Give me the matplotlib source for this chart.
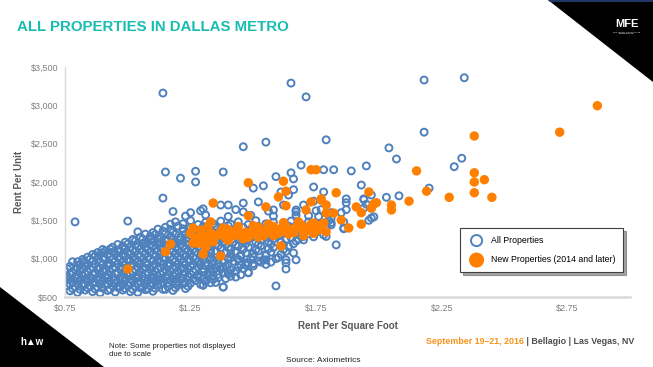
import matplotlib.pyplot as plt
from matplotlib.patches import Polygon

plt.rcParams['font.family'] = ['Liberation Sans', 'DejaVu Sans']

# Datos (renta por pie cuadrado, renta por unidad)
blue_core = [
    (0.77, 580), (0.80, 560), (0.83, 590), (0.86, 570), (0.89, 555), (0.92, 585), (0.95, 565),
    (0.98, 590), (1.01, 570), (1.04, 560), (1.07, 595), (1.10, 575), (1.14, 600), (1.18, 585),
    (0.76, 650), (0.79, 630), (0.82, 655), (0.85, 640), (0.88, 625), (0.91, 660), (0.94, 645),
    (0.97, 630), (1.00, 655), (1.03, 640), (1.06, 625), (1.09, 650), (1.12, 660), (1.16, 635),
    (1.20, 655), (1.24, 640), (1.30, 655), (1.38, 630),
    (0.75, 710), (0.78, 690), (0.81, 720), (0.84, 700), (0.87, 685), (0.90, 715), (0.93, 700),
    (0.96, 690), (0.99, 720), (1.02, 705), (1.05, 690), (1.08, 715), (1.11, 700), (1.14, 685),
    (1.17, 720), (1.20, 700), (1.23, 690), (1.27, 715), (1.31, 700), (1.35, 690),
    (0.76, 770), (0.79, 755), (0.82, 780), (0.85, 760), (0.88, 750), (0.91, 775), (0.94, 765),
    (0.97, 750), (1.00, 780), (1.03, 760), (1.06, 770), (1.09, 750), (1.12, 775), (1.15, 760),
    (1.18, 780), (1.21, 755), (1.24, 770), (1.28, 760), (1.32, 780), (1.36, 750), (1.41, 770),
    (0.75, 830), (0.78, 815), (0.81, 845), (0.84, 825), (0.87, 810), (0.90, 840), (0.93, 830),
    (0.96, 815), (0.99, 845), (1.02, 825), (1.05, 835), (1.08, 815), (1.11, 840), (1.14, 820),
    (1.17, 830), (1.20, 845), (1.23, 815), (1.26, 835), (1.30, 825), (1.34, 845), (1.38, 815),
    (1.43, 835), (1.48, 820),
    (0.77, 900), (0.80, 880), (0.83, 905), (0.86, 890), (0.89, 875), (0.92, 905), (0.95, 890),
    (0.98, 880), (1.01, 910), (1.04, 890), (1.07, 875), (1.10, 900), (1.13, 885), (1.16, 905),
    (1.19, 890), (1.22, 875), (1.25, 900), (1.28, 890), (1.31, 910), (1.35, 880), (1.39, 900),
    (1.44, 885), (1.50, 905),
    (0.80, 960), (0.83, 945), (0.86, 970), (0.89, 955), (0.92, 940), (0.95, 965), (0.98, 950),
    (1.01, 975), (1.04, 960), (1.07, 945), (1.10, 970), (1.13, 955), (1.16, 940), (1.19, 965),
    (1.22, 950), (1.25, 975), (1.28, 960), (1.31, 945), (1.34, 970), (1.38, 955), (1.42, 965),
    (1.47, 945), (1.52, 970), (1.57, 955),
    (0.84, 1020), (0.87, 1035), (0.90, 1010), (0.93, 1030), (0.96, 1020), (0.99, 1040),
    (1.02, 1015), (1.05, 1030), (1.08, 1020), (1.11, 1040), (1.14, 1010), (1.17, 1030),
    (1.20, 1025), (1.23, 1040), (1.26, 1015), (1.29, 1035), (1.33, 1020), (1.37, 1040),
    (1.41, 1010), (1.45, 1030), (1.50, 1020), (1.55, 1040), (1.60, 1015),
    (0.88, 1080), (0.91, 1100), (0.94, 1085), (0.97, 1095), (1.00, 1075), (1.03, 1100),
    (1.06, 1090), (1.09, 1080), (1.12, 1100), (1.15, 1085), (1.18, 1095), (1.21, 1075),
    (1.24, 1100), (1.27, 1090), (1.31, 1080), (1.35, 1100), (1.39, 1085), (1.43, 1095),
    (1.47, 1075), (1.52, 1100), (1.57, 1085), (1.63, 1095),
    (0.94, 1150), (0.98, 1165), (1.01, 1145), (1.04, 1160), (1.07, 1150), (1.10, 1170),
    (1.13, 1145), (1.16, 1160), (1.19, 1150), (1.22, 1165), (1.25, 1145), (1.28, 1160),
    (1.32, 1155), (1.36, 1170), (1.40, 1145), (1.44, 1160), (1.48, 1150), (1.53, 1165),
    (1.58, 1145), (1.64, 1160),
    (0.99, 1215), (1.03, 1230), (1.07, 1210), (1.10, 1225), (1.13, 1215), (1.16, 1235),
    (1.19, 1210), (1.22, 1225), (1.26, 1215), (1.30, 1235), (1.34, 1210), (1.38, 1225),
    (1.42, 1215), (1.46, 1235), (1.51, 1210), (1.56, 1225), (1.61, 1215), (1.67, 1230),
    (1.05, 1280), (1.09, 1295), (1.13, 1275), (1.17, 1290), (1.21, 1280), (1.25, 1300),
    (1.29, 1275), (1.33, 1290), (1.37, 1280), (1.41, 1300), (1.45, 1275), (1.50, 1290),
    (1.55, 1280), (1.60, 1300), (1.65, 1275), (1.70, 1290),
    (1.10, 1340), (1.14, 1360), (1.18, 1345), (1.22, 1355), (1.26, 1340), (1.30, 1365),
    (1.34, 1345), (1.39, 1355), (1.44, 1340), (1.49, 1360), (1.54, 1345), (1.59, 1355),
    (1.64, 1340), (1.69, 1360), (1.75, 1345),
    (1.15, 1410), (1.20, 1425), (1.25, 1405), (1.30, 1420), (1.35, 1410), (1.40, 1430),
    (1.46, 1405), (1.52, 1420), (1.58, 1410), (1.64, 1425), (1.70, 1405), (1.77, 1420),
    (1.19, 1480), (1.25, 1495), (1.31, 1475), (1.37, 1490), (1.44, 1480), (1.51, 1495),
    (1.58, 1475), (1.65, 1490), (1.72, 1480), (1.80, 1495),
    (1.23, 1555), (1.31, 1570), (1.40, 1550), (1.49, 1565), (1.58, 1555), (1.67, 1570),
    (1.76, 1550), (1.29, 1625), (1.43, 1640), (1.56, 1620), (1.67, 1635), (1.75, 1625),
]

# puntos intermedios del nucleo denso
blue_fill = [
    (0.78, 610), (0.81, 600), (0.84, 620), (0.87, 605), (0.90, 615), (0.93, 600), (0.96, 625),
    (0.99, 610), (1.02, 600), (1.05, 620), (1.08, 605), (1.11, 615), (1.15, 600), (1.19, 620),
    (1.23, 610),
    (0.77, 670), (0.80, 680), (0.83, 665), (0.86, 685), (0.89, 675), (0.92, 670), (0.95, 680),
    (0.98, 665), (1.01, 685), (1.04, 675), (1.07, 670), (1.10, 680), (1.13, 665), (1.16, 685),
    (1.19, 675), (1.22, 670), (1.25, 680), (1.29, 665), (1.33, 685),
    (0.77, 735), (0.80, 745), (0.83, 730), (0.86, 740), (0.89, 735), (0.92, 745), (0.95, 730),
    (0.98, 740), (1.01, 735), (1.04, 745), (1.07, 730), (1.10, 740), (1.13, 735), (1.16, 745),
    (1.19, 730), (1.22, 740), (1.26, 735), (1.30, 745), (1.34, 730), (1.39, 740),
    (0.77, 800), (0.80, 790), (0.83, 805), (0.86, 795), (0.89, 800), (0.92, 790), (0.95, 805),
    (0.98, 795), (1.01, 800), (1.04, 790), (1.07, 805), (1.10, 795), (1.13, 800), (1.16, 790),
    (1.19, 805), (1.22, 795), (1.25, 800), (1.28, 790), (1.32, 805), (1.36, 795), (1.40, 800),
    (1.45, 790),
    (0.76, 865), (0.79, 855), (0.82, 870), (0.85, 860), (0.88, 865), (0.91, 855), (0.94, 870),
    (0.97, 860), (1.00, 865), (1.03, 855), (1.06, 870), (1.09, 860), (1.12, 865), (1.15, 855),
    (1.18, 870), (1.21, 860), (1.24, 865), (1.27, 855), (1.30, 870), (1.33, 860), (1.37, 865),
    (1.41, 855), (1.46, 870),
    (0.81, 925), (0.84, 920), (0.87, 930), (0.90, 920), (0.93, 925), (0.96, 930), (0.99, 920),
    (1.02, 935), (1.05, 925), (1.08, 920), (1.11, 930), (1.14, 920), (1.17, 925), (1.20, 935),
    (1.23, 920), (1.26, 930), (1.29, 925), (1.32, 920), (1.36, 930), (1.40, 925), (1.45, 920),
    (1.50, 935), (1.55, 925),
    (0.82, 990), (0.85, 995), (0.88, 985), (0.91, 1000), (0.94, 990), (0.97, 995), (1.00, 985),
    (1.03, 1000), (1.06, 990), (1.09, 995), (1.12, 985), (1.15, 1000), (1.18, 990), (1.21, 995),
    (1.24, 985), (1.27, 1000), (1.30, 990), (1.33, 995), (1.36, 985), (1.40, 1000), (1.44, 990),
    (1.49, 995), (1.54, 985), (1.59, 1000),
    (0.86, 1055), (0.89, 1060), (0.92, 1050), (0.95, 1065), (0.98, 1055), (1.01, 1060),
    (1.04, 1050), (1.07, 1065), (1.10, 1055), (1.13, 1060), (1.16, 1050), (1.19, 1065),
    (1.22, 1055), (1.25, 1060), (1.29, 1050), (1.33, 1065), (1.37, 1055), (1.41, 1060),
    (1.45, 1050), (1.50, 1065), (1.55, 1055), (1.61, 1060),
    (0.90, 1120), (0.93, 1125), (0.96, 1115), (0.99, 1130), (1.02, 1120), (1.05, 1125),
    (1.08, 1115), (1.11, 1130), (1.14, 1120), (1.17, 1125), (1.20, 1115), (1.23, 1130),
    (1.26, 1120), (1.29, 1125), (1.33, 1115), (1.37, 1130), (1.41, 1120), (1.46, 1125),
    (1.51, 1115), (1.56, 1130), (1.62, 1120),
    (0.96, 1185), (1.00, 1190), (1.03, 1180), (1.06, 1195), (1.09, 1185), (1.12, 1190),
    (1.15, 1180), (1.18, 1195), (1.21, 1185), (1.24, 1190), (1.27, 1180), (1.31, 1195),
    (1.35, 1185), (1.39, 1190), (1.43, 1180), (1.47, 1195), (1.52, 1185), (1.57, 1190),
    (1.62, 1180), (1.66, 1195),
    (1.02, 1250), (1.06, 1255), (1.09, 1245), (1.12, 1260), (1.15, 1250), (1.18, 1255),
    (1.21, 1245), (1.24, 1260), (1.28, 1250), (1.32, 1255), (1.36, 1245), (1.40, 1260),
    (1.44, 1250), (1.48, 1255), (1.53, 1245), (1.58, 1260), (1.63, 1250), (1.68, 1255),
    (1.07, 1320), (1.11, 1315), (1.15, 1325), (1.19, 1315), (1.23, 1320), (1.27, 1325),
    (1.31, 1315), (1.35, 1320), (1.40, 1325), (1.45, 1315), (1.50, 1320), (1.55, 1325),
    (1.61, 1315), (1.67, 1320), (1.72, 1325),
    (1.12, 1385), (1.17, 1380), (1.22, 1390), (1.27, 1380), (1.32, 1385), (1.37, 1390),
    (1.43, 1380), (1.49, 1385), (1.55, 1390), (1.61, 1380), (1.67, 1385), (1.74, 1390),
    (1.17, 1450), (1.22, 1455), (1.28, 1445), (1.34, 1455), (1.41, 1450), (1.48, 1445),
    (1.55, 1455), (1.62, 1450), (1.69, 1445), (1.76, 1455),
]

blue_outer = [
    (0.79, 1480), (1.14, 3160), (1.65, 3290), (1.71, 3110), (2.18, 3330), (2.34, 3360),
    (2.18, 2650), (1.79, 2550), (1.46, 2460), (1.55, 2520),
    (1.15, 2130), (1.21, 2050), (1.27, 2140), (1.27, 2000), (1.38, 2130), (1.14, 1790),
    (1.50, 1920), (1.54, 1950), (1.59, 2070), (1.65, 2120), (1.66, 2040), (1.69, 2220),
    (1.74, 1935), (1.64, 1830), (1.66, 1900), (1.61, 1870),
    (1.78, 2160), (1.82, 2160), (1.89, 2145), (1.95, 2210), (1.93, 1960), (2.04, 2445),
    (2.07, 2300), (2.30, 2200), (2.33, 2310), (2.20, 1920), (1.78, 1870), (1.87, 1780),
    (1.94, 1780), (1.97, 1830), (2.03, 1800), (2.08, 1820),
    (1.00, 1490), (1.04, 1350), (1.02, 1245), (1.18, 1615), (0.90, 1075), (0.96, 1095),
    (0.78, 960), (0.82, 960),
    (1.40, 1700), (1.37, 1700), (1.30, 1650), (1.25, 1600), (1.46, 1725), (1.52, 1740),
    (1.46, 1610), (1.58, 1635), (1.67, 1610), (1.70, 1375), (1.66, 1075), (1.67, 985),
    (1.63, 945), (1.63, 865), (1.59, 645), (1.53, 955), (1.48, 945), (1.38, 890),
    (1.38, 630), (1.30, 655), (1.29, 760), (1.34, 785), (1.43, 760), (1.48, 815),
    (1.83, 1180), (1.78, 1310), (1.86, 1480), (1.86, 1400), (1.97, 1530), (1.98, 1545),
    (1.94, 1770), (1.87, 1730), (1.87, 1640), (1.94, 1660), (1.97, 1660), (1.81, 1600),
    (1.85, 1600), (1.81, 1470), (1.79, 1410), (1.79, 1290), (1.95, 1710), (1.96, 1500),
    (1.81, 1530), (1.81, 1440), (1.75, 1350), (1.86, 1390), (1.70, 1245), (1.74, 1285),
    (1.72, 1560), (1.77, 1640), (1.62, 1700), (1.70, 1700), (1.74, 1750), (1.55, 985),
    (1.63, 985), (1.47, 915), (1.40, 830), (1.33, 815),
]

orange_new = [
    (2.87, 2995), (2.72, 2650), (2.38, 2600), (2.15, 2145), (2.38, 2120), (2.38, 2000),
    (2.42, 2030), (2.38, 1860), (2.45, 1800), (2.28, 1800), (2.19, 1880), (2.12, 1750),
    (1.96, 1870), (1.83, 1860), (2.05, 1700), (1.99, 1730),
    (2.05, 1635), (1.98, 1715), (1.97, 1660), (1.91, 1675), (1.93, 1600), (1.93, 1450),
    (1.88, 1400), (1.85, 1505), (1.77, 1765), (1.79, 1700), (1.79, 1595), (1.82, 1595),
    (1.78, 1465), (1.79, 1350), (1.74, 1465),
    (1.48, 1990), (1.62, 2010), (1.63, 1880), (1.60, 1805), (1.73, 2160), (1.75, 2160),
    (1.73, 1740), (1.77, 1780), (1.34, 1725), (1.55, 1675), (1.63, 1690), (1.48, 1560),
    (1.71, 1635), (1.33, 1480), (1.26, 1400), (1.26, 1205), (1.30, 1060), (1.31, 1150),
    (1.37, 1035), (1.61, 1165), (1.00, 865), (1.15, 1090), (1.17, 1190),
    (1.25, 1330), (1.27, 1270), (1.29, 1370), (1.31, 1245), (1.33, 1335), (1.35, 1295),
    (1.37, 1350), (1.39, 1270), (1.41, 1330), (1.43, 1360), (1.45, 1295), (1.47, 1345),
    (1.49, 1320), (1.51, 1380), (1.53, 1330), (1.55, 1370), (1.57, 1400), (1.59, 1355),
    (1.61, 1390), (1.63, 1420), (1.65, 1375), (1.67, 1410), (1.69, 1440), (1.71, 1400),
    (1.73, 1450), (1.75, 1420), (1.77, 1440), (1.28, 1200), (1.34, 1220), (1.40, 1240),
    (1.46, 1260), (1.52, 1280), (1.58, 1300), (1.64, 1320), (1.70, 1350), (1.76, 1375),
    (1.38, 1400), (1.44, 1420), (1.50, 1430), (1.56, 1450), (1.62, 1470), (1.68, 1480),
    (1.32, 1420), (1.42, 1300), (1.48, 1280), (1.70, 1300), (1.74, 1330), (1.54, 1300),
    (1.60, 1330), (1.30, 1300), (1.36, 1310), (1.40, 1380), (1.45, 1330), (1.50, 1350),
    (1.56, 1340), (1.62, 1360), (1.66, 1340), (1.72, 1370), (1.58, 1420), (1.52, 1410),
]

x_ticks = [0.75, 1.25, 1.75, 2.25, 2.75]
x_labels = ['$0.75', '$1.25', '$1.75', '$2.25', '$2.75']
y_ticks = [500, 1000, 1500, 2000, 2500, 3000, 3500]
y_labels = ['$500', '$1,000', '$1,500', '$2,000', '$2,500', '$3,000', '$3,500']

W, H = 653, 367


def px(x, y):
    # pixeles de la imagen -> fraccion de la figura
    return x / W, 1 - y / H


fig = plt.figure(figsize=(W / 100, H / 100), dpi=100)
fig.patch.set_facecolor('white')

# -------- Decoracion de la diapositiva --------
fig.patches.append(Polygon([px(548, 0), px(653, 0), px(653, 82)], closed=True,
                           transform=fig.transFigure, facecolor='black', edgecolor='none'))
fig.patches.append(Polygon([px(548, 0), px(653, 0), px(653, 2), px(550, 2)], closed=True,
                           transform=fig.transFigure, facecolor='#1F3864', edgecolor='none'))
fig.patches.append(Polygon([px(0, 287), px(0, 367), px(104, 367)], closed=True,
                           transform=fig.transFigure, facecolor='black', edgecolor='none'))

fig.text(*px(17, 27), 'ALL PROPERTIES IN DALLAS METRO', color='#17BDB0', fontsize=10.8,
         fontweight='bold', va='center', ha='left')
fig.text(*px(627, 24), 'MFE', color='white', fontsize=8, fontweight='bold', ha='center', va='center')
fig.text(*px(627, 33), 'MULTIFAMILY EXECUTIVE\nCONFERENCE', color='white', fontsize=1.6,
         ha='center', va='center', linespacing=1.0)
fig.text(*px(32, 342), 'h\u25b2w', color='white', fontsize=7, fontweight='bold', ha='center', va='center')

fig.text(*px(109, 346), 'Note: Some properties not displayed', fontsize=5.6, color='#222222',
         ha='left', va='center')
fig.text(*px(109, 355), 'due to scale', fontsize=5.6, color='#222222', ha='left', va='center')
fig.text(*px(286, 360), 'Source: Axiometrics', fontsize=6, color='#222222', ha='left', va='center')

t1 = fig.text(*px(426, 342), 'September 19\u201321, 2016', fontsize=6.4, fontweight='bold',
              color='#F7941D', ha='left', va='center')
fig.canvas.draw()
bb = t1.get_window_extent()
fig.text(bb.x1 / W, 1 - 342 / H, ' | Bellagio | Las Vegas, NV', fontsize=6.4, fontweight='bold',
         color='#4D4D4D', ha='left', va='center')

# -------- Grafico --------
ax = fig.add_axes([65 / W, 1 - 297 / H, 565 / W, 230 / H])

all_blue = blue_core + blue_fill + blue_outer
ax.scatter([p[0] for p in all_blue], [p[1] for p in all_blue],
           s=25, facecolors='none', edgecolors='#4F81BD', linewidths=1.4,
           label='All Properties', zorder=2)
ax.scatter([p[0] for p in orange_new], [p[1] for p in orange_new],
           s=46, facecolors='#FF8000', edgecolors='none',
           label='New Properties (2014 and later)', zorder=3)

ax.set_xlim(0.75, 3.0)
ax.set_ylim(500, 3500)
ax.set_xticks(x_ticks)
ax.set_xticklabels(x_labels)
ax.set_yticks(y_ticks)
ax.set_yticklabels(y_labels)
ax.tick_params(length=0, labelsize=6.5, labelcolor='#7F7F7F', pad=5)

for s in ['top', 'right']:
    ax.spines[s].set_visible(False)
ax.spines['left'].set_color('#D9D9D9')
ax.spines['left'].set_linewidth(1.0)
ax.spines['bottom'].set_color('#D9D9D9')
ax.spines['bottom'].set_linewidth(1.8)

ax.set_xlabel('Rent Per Square Foot', fontsize=7, fontweight='bold', color='#595959', labelpad=6)
ax.set_ylabel('Rent Per Unit', fontsize=7, fontweight='bold', color='#595959', labelpad=5)

leg = ax.legend(loc='upper left', bbox_to_anchor=(0.699, 0.30), borderaxespad=0,
                fontsize=6.3, frameon=True, fancybox=False, shadow=True, markerscale=1.6,
                handletextpad=0.6, labelspacing=1.2, borderpad=0.9)
leg.get_frame().set_edgecolor('#404040')
leg.get_frame().set_linewidth(0.8)

plt.savefig('out.png', dpi=100)
